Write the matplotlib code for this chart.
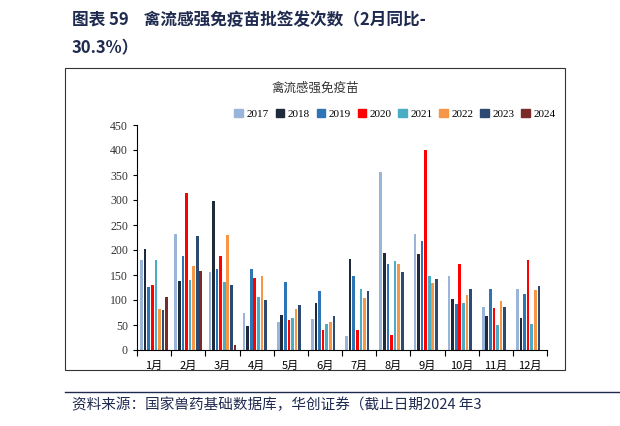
import matplotlib
matplotlib.use("Agg")
import matplotlib.pyplot as plt
import matplotlib.patches as mpatches
import numpy as np

plt.rcParams['font.family'] = ['Noto Sans CJK SC', 'DejaVu Sans']

MONTHS = ['1月', '2月', '3月', '4月', '5月', '6月', '7月', '8月', '9月', '10月', '11月', '12月']
YEARS = ['2017', '2018', '2019', '2020', '2021', '2022', '2023', '2024']
V2017 = [181, 232, 157, 75, 56, 62, 29, 357, 232, 149, 87, 123]
V2018 = [203, 138, 299, 48, 70, 94, 183, 195, 192, 103, 69, 65]
V2019 = [127, 189, 163, 162, 136, 119, 148, 172, 218, 92, 123, 112]
V2020 = [130, 315, 189, 145, 61, 40, 40, 31, 400, 172, 84, 180]
V2021 = [181, 141, 136, 107, 64, 52, 122, 179, 149, 95, 51, 52]
V2022 = [83, 169, 231, 149, 83, 56, 104, 172, 134, 110, 98, 121]
V2023 = [81, 228, 131, 100, 90, 68, 119, 156, 142, 123, 86, 128]
V2024 = [107, 159, 10]
SERIES = [V2017, V2018, V2019, V2020, V2021, V2022, V2023, V2024]
COLORS = ['#9AB5DA', '#1F2A3C', '#2E75B6', '#FF0000', '#4BACC6', '#F79646', '#2C4A72', '#7B2A2A']

fig = plt.figure(figsize=(6.2, 4.26), dpi=100)
ax = fig.add_axes([137/620, 1-350/426, 410/620, 225/426])

w = 0.105
x = np.arange(len(MONTHS))
for i, (vals, c, yr) in enumerate(zip(SERIES, COLORS, YEARS)):
    xs = x[:len(vals)] + (i - 3.5) * w
    ax.bar(xs, vals, width=w * 0.75, color=c, label=yr)

ax.set_xlim(-0.5, 11.5)
ax.set_ylim(0, 450)
ax.set_yticks(range(0, 451, 50))
ax.set_xticks(np.arange(-0.5, 12, 1))
ax.set_xticklabels([])
ax.set_xticks(x, minor=True)
ax.set_xticklabels(MONTHS, minor=True, fontsize=8)
ax.tick_params(axis='x', which='minor', length=0, pad=8)
ax.tick_params(axis='x', which='major', length=4, direction='out')
ax.tick_params(axis='y', labelsize=8.5, length=3)
for lab in ax.get_yticklabels():
    lab.set_family(['Liberation Serif', 'DejaVu Serif'])
    lab.set_color('#333333')
for s in ['top', 'right']:
    ax.spines[s].set_visible(False)

handles = [mpatches.Patch(color=c, label=y) for c, y in zip(COLORS, YEARS)]
fig.legend(handles=handles, loc='center', bbox_to_anchor=(395/620, 1-114/426), ncol=8,
           frameon=False, handlelength=0.8, handletextpad=0.3, columnspacing=0.6,
           prop={'family': ['Liberation Serif', 'DejaVu Serif'], 'size': 8})

# chart frame
fig.patches.append(mpatches.Rectangle((65/620, 1-370/426), 500/620, 302/426, transform=fig.transFigure,
                                      fill=False, edgecolor='#333333', linewidth=0.8))
fig.text(315/620, 1-88/426, '禽流感强免疫苗', ha='center', va='center', fontsize=9, color='#333333')

fig.text(72/620, 1-20/426, '图表 59    禽流感强免疫苗批签发次数（2月同比-', ha='left', va='center',
         fontsize=12, fontweight='bold', color='#1F2A4F')
fig.text(72/620, 1-48/426, '30.3%）', ha='left', va='center', fontsize=12, fontweight='bold', color='#1F2A4F')
fig.text(72/620, 1-405/426, '资料来源：国家兽药基础数据库，华创证券（截止日期2024 年3', ha='left', va='center',
         fontsize=10.5, style='italic', color='#1F2A4F')
fig.lines.append(plt.Line2D([65/620, 1], [1-392/426, 1-392/426], transform=fig.transFigure,
                            color='#1F2A4F', linewidth=1))

fig.savefig('out.png', dpi=100)
